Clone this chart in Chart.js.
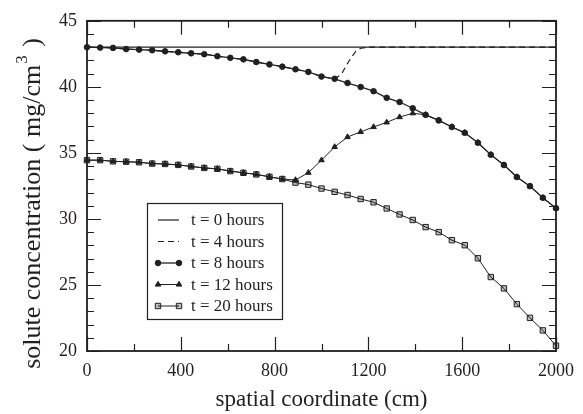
<!DOCTYPE html>
<html>
<head>
<meta charset="utf-8">
<script src="https://cdn.jsdelivr.net/npm/chart.js@4/dist/chart.umd.min.js"></script>
<style>
html, body {
	margin: 0;
	padding: 0;
	background: #fff;
}
canvas {
	display: block;
}
</style>
</head>
<body>
<canvas id="chart" width="583" height="414"></canvas>
<script>
const position = [0, 56, 111, 167, 222, 278, 333, 389, 444, 500, 556, 611, 667, 722, 778, 833, 889, 944, 1000,
	1056, 1111, 1167, 1222, 1278, 1333, 1389, 1444, 1500, 1556, 1611, 1667, 1722, 1778, 1833, 1889, 1944, 2000];

const hours0Position = [0, 2000];
const hours0 = [43, 43];

const hours4Position = [0, 56, 111, 167, 222, 278, 333, 389, 444, 500, 556, 611, 667, 722, 778, 833, 889, 944, 1000,
	1056, 1085, 1105, 1126, 1147, 1168, 1196, 1222, 1600, 2000];
const hours4 = [43.0, 42.97, 42.95, 42.86, 42.82, 42.77, 42.69, 42.62, 42.54, 42.47, 42.32, 42.2, 42.08, 41.88, 41.7,
	41.53, 41.33, 41.13, 40.78, 40.61, 40.95, 41.6, 42.2, 42.7, 42.92, 43.0, 43.0, 43.0, 43.0];

const hours8 = [43.0, 42.97, 42.95, 42.86, 42.82, 42.77, 42.69, 42.62, 42.54, 42.47, 42.32, 42.2, 42.08, 41.88, 41.7,
	41.53, 41.33, 41.13, 40.78, 40.61, 40.29, 39.99, 39.67, 39.17, 38.85, 38.38, 37.88, 37.46, 36.96, 36.52,
	35.77, 34.86, 34.08, 33.17, 32.48, 31.6, 30.81];

const hours12 = [34.45, 34.45, 34.36, 34.33, 34.29, 34.19, 34.16, 34.09, 33.97, 33.86, 33.79, 33.62, 33.49, 33.37, 33.19,
	33.02, 32.95, 33.5, 34.45, 35.45, 36.2, 36.59, 36.96, 37.31, 37.71, 38.0, 37.88, 37.46, 36.96, 36.52,
	35.77, 34.86, 34.08, 33.17, 32.48, 31.6, 30.81];

const hours20 = [34.45, 34.45, 34.36, 34.33, 34.29, 34.19, 34.16, 34.09, 33.97, 33.86, 33.79, 33.62, 33.49, 33.37, 33.19,
	33.02, 32.75, 32.6, 32.3, 32.05, 31.81, 31.51, 31.26, 30.79, 30.34, 29.92, 29.38, 29.0, 28.39, 28.01,
	27.02, 25.6, 24.74, 23.55, 22.51, 21.56, 20.4];

const xTicks = [0, 400, 800, 1200, 1600, 2000];
const yTicks = [20, 25, 30, 35, 40, 45];

const ink = '#231f20';
const serif = '"Liberation Serif", "Times New Roman", serif';

function points(xs, ys)
{
	return xs.map((x, i) => ({x, y: ys[i]}));
}

function series(label, data, style)
{
	return {label, data, borderColor: ink, borderWidth: 1, pointRadius: 0,
		pointBorderColor: ink, pointBackgroundColor: ink, pointBorderWidth: 1,
		tension: 0, clip: false, ...style};
}

const frame = {
	id: 'frame',
	afterDatasetsDraw(chart)
	{
		const {ctx, chartArea: area, scales: {x, y}} = chart;
		ctx.save();
		ctx.strokeStyle = ink;
		ctx.lineWidth = 1.2;
		ctx.beginPath();
		for (let v = x.min; v <= x.max; v += 200)
		{
			const px = Math.round(x.getPixelForValue(v)) + 0.5;
			const size = v % 400 ? 7 : 14;
			ctx.moveTo(px, area.bottom);
			ctx.lineTo(px, area.bottom - size);
			ctx.moveTo(px, area.top);
			ctx.lineTo(px, area.top + size);
		}
		for (let v = y.min; v <= y.max; v += 1)
		{
			const py = Math.round(y.getPixelForValue(v)) + 0.5;
			const size = v % 5 ? 7 : 14;
			ctx.moveTo(area.left, py);
			ctx.lineTo(area.left + size, py);
			ctx.moveTo(area.right, py);
			ctx.lineTo(area.right - size, py);
		}
		ctx.stroke();
		ctx.lineWidth = 1.8;
		ctx.strokeRect(area.left, area.top, area.right - area.left, area.bottom - area.top);
		ctx.restore();
	}
};

const yTitle = {
	id: 'yTitle',
	afterDraw(chart)
	{
		const {ctx} = chart;
		const main = 'solute concentration ( mg/cm';
		const tail = ' )';
		ctx.save();
		ctx.fillStyle = ink;
		ctx.textBaseline = 'alphabetic';
		ctx.font = '26px ' + serif;
		const mainWidth = ctx.measureText(main).width;
		const tailWidth = ctx.measureText(tail).width;
		ctx.font = '17px ' + serif;
		const supWidth = ctx.measureText('3').width + 2;
		const total = mainWidth + supWidth + tailWidth;
		ctx.translate(40, 204);
		ctx.rotate(-Math.PI / 2);
		let pos = -total / 2;
		ctx.font = '26px ' + serif;
		ctx.fillText(main, pos, 0);
		pos += mainWidth + 1;
		ctx.font = '17px ' + serif;
		ctx.fillText('3', pos, -13);
		pos += supWidth;
		ctx.font = '26px ' + serif;
		ctx.fillText(tail, pos, 0);
		ctx.restore();
	}
};

const legendBox = {
	id: 'legendBox',
	afterDraw(chart)
	{
		const {ctx} = chart;
		const left = 147, top = 203, width = 135, height = 116;
		ctx.save();
		ctx.fillStyle = '#fff';
		ctx.fillRect(left, top, width, height);
		ctx.strokeStyle = ink;
		ctx.lineWidth = 1.2;
		ctx.strokeRect(left + 0.5, top + 0.5, width, height);
		ctx.font = '17px ' + serif;
		ctx.textBaseline = 'middle';
		chart.data.datasets.forEach((set, i) =>
		{
			const y = top + 17 + i * 21.5;
			ctx.strokeStyle = set.borderColor;
			ctx.lineWidth = set.borderWidth;
			ctx.setLineDash(set.borderDash || []);
			ctx.beginPath();
			ctx.moveTo(158, y);
			ctx.lineTo(179, y);
			ctx.stroke();
			ctx.setLineDash([]);
			if (set.pointRadius)
			{
				ctx.fillStyle = set.pointBackgroundColor;
				ctx.strokeStyle = set.pointBorderColor;
				ctx.lineWidth = 1;
				for (const px of [158, 179])
					Chart.helpers.drawPoint(ctx, {pointStyle: set.pointStyle, radius: set.pointRadius, rotation: 0, borderWidth: 1}, px, y);
			}
			ctx.fillStyle = ink;
			ctx.fillText(set.label, 191, y + 1);
		});
		ctx.restore();
	}
};

new Chart(document.getElementById('chart'), {
	type: 'line',
	data: {
		datasets: [
			series('t = 0 hours', points(hours0Position, hours0), {borderWidth: 1.2}),
			series('t = 4 hours', points(hours4Position, hours4), {borderWidth: 1.2, borderDash: [6, 4]}),
			series('t = 8 hours', points(position, hours8), {borderWidth: 1.3, pointRadius: 2.8, pointStyle: 'circle'}),
			series('t = 12 hours', points(position, hours12), {pointRadius: 3.2, pointStyle: 'triangle'}),
			series('t = 20 hours', points(position, hours20), {pointRadius: 3.8, pointStyle: 'rect',
				pointBackgroundColor: 'rgba(0,0,0,0.25)'})
		]
	},
	options: {
		responsive: false,
		animation: false,
		layout: {padding: {top: 16, right: 19, left: 0, bottom: 0}},
		plugins: {legend: {display: false}, tooltip: {enabled: false}},
		scales: {
			x: {
				type: 'linear',
				min: 0,
				max: 2000,
				afterFit: scale => scale.height = 63,
				afterBuildTicks: scale => scale.ticks = xTicks.map(value => ({value})),
				grid: {display: false, drawTicks: false},
				border: {display: false},
				ticks: {padding: 9, color: ink, font: {family: serif, size: 18}, maxRotation: 0,
					callback: value => String(value)},
				title: {display: true, text: 'spatial coordinate (cm)', color: ink,
					font: {family: serif, size: 23}, padding: {top: 0, bottom: 0}}
			},
			y: {
				min: 20,
				max: 45,
				afterFit: scale => scale.width = 87,
				afterBuildTicks: scale => scale.ticks = yTicks.map(value => ({value})),
				grid: {display: false, drawTicks: false},
				border: {display: false},
				ticks: {padding: 10, color: ink, font: {family: serif, size: 18},
					callback: value => String(value)}
			}
		}
	},
	plugins: [frame, yTitle, legendBox]
});
</script>
</body>
</html>
